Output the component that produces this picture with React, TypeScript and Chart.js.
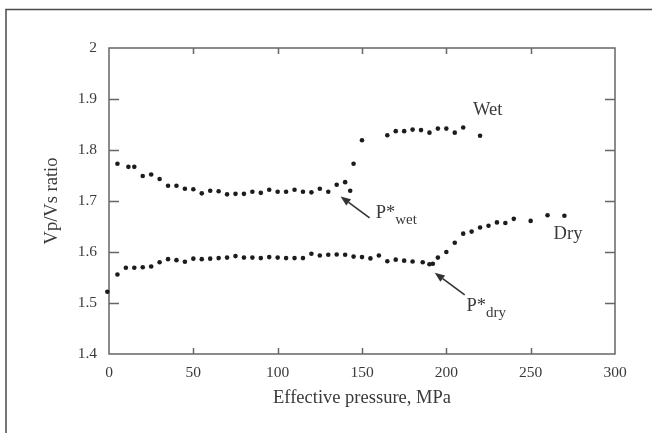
import React, { useEffect, useRef } from 'react';
import { Chart, registerables } from 'chart.js';

Chart.register(...registerables);

// Effective pressure (MPa) and Vp/Vs ratio
const wetPressure = [5, 11.5, 15, 20, 25, 30, 35, 40, 45, 50, 55, 60, 65, 70, 75, 80, 85, 90, 95, 100, 105, 110, 115, 120, 125, 130, 135, 140, 143, 145, 150, 165, 170, 175, 180, 185, 190, 195, 200, 205, 210, 220];
const wetRatio = [1.773, 1.767, 1.767, 1.749, 1.752, 1.743, 1.730, 1.730, 1.724, 1.723, 1.715, 1.720, 1.719, 1.713, 1.714, 1.714, 1.718, 1.716, 1.722, 1.718, 1.718, 1.722, 1.718, 1.717, 1.724, 1.718, 1.732, 1.737, 1.720, 1.773, 1.819, 1.829, 1.837, 1.837, 1.840, 1.839, 1.834, 1.842, 1.842, 1.834, 1.844, 1.828];

const dryPressure = [-1, 5, 10, 15, 20, 25, 30, 35, 40, 45, 50, 55, 60, 65, 70, 75, 80, 85, 90, 95, 100, 105, 110, 115, 120, 125, 130, 135, 140, 145, 150, 155, 160, 165, 170, 175, 180, 186, 190, 192, 195, 200, 205, 210, 215, 220, 225, 230, 235, 240, 250, 260, 270];
const dryRatio = [1.522, 1.556, 1.569, 1.569, 1.570, 1.5715, 1.580, 1.586, 1.584, 1.581, 1.587, 1.586, 1.587, 1.588, 1.589, 1.592, 1.589, 1.589, 1.588, 1.590, 1.589, 1.588, 1.588, 1.588, 1.5965, 1.593, 1.5945, 1.595, 1.5945, 1.591, 1.590, 1.5875, 1.593, 1.582, 1.585, 1.583, 1.5815, 1.580, 1.576, 1.577, 1.589, 1.600, 1.618, 1.636, 1.640, 1.648, 1.6515, 1.658, 1.657, 1.665, 1.661, 1.672, 1.671];

const xTitle = 'Effective pressure, MPa';
const yTitle = 'Vp/Vs ratio';

// annotation anchors in data units
const seriesLabels = [
  { text: 'Wet', x: 215.8, y: 1.8693 },
  { text: 'Dry', x: 263.6, y: 1.6251 },
];
const arrowNotes = [
  { main: 'P*', sub: 'wet', tip: [137.3, 1.709], tail: [154.5, 1.667], textAt: [158.1, 1.666] },
  { main: 'P*', sub: 'dry', tip: [193.1, 1.5595], tail: [210.9, 1.516], textAt: [211.9, 1.4843] },
];

const SERIF = '"Liberation Serif", "DejaVu Serif", serif';
const AXIS = '#666666';
const TEXT = '#3a3a3a';

const framePlugin = {
  id: 'frame',
  beforeDatasetsDraw(chart: any) {
    const { ctx, chartArea, scales } = chart;
    const { left, right, top, bottom } = chartArea;
    const x = scales.x;
    const y = scales.y;
    ctx.save();
    // outer picture frame
    ctx.strokeStyle = '#4a4a4a';
    ctx.lineWidth = 1.5;
    ctx.beginPath();
    ctx.moveTo(6, 433);
    ctx.lineTo(6, 9.5);
    ctx.lineTo(652, 9.5);
    ctx.stroke();
    // plot box
    ctx.strokeStyle = AXIS;
    ctx.lineWidth = 1.5;
    ctx.strokeRect(left, top, right - left, bottom - top);
    ctx.beginPath();
    x.ticks.forEach((t: any) => {
      if (t.value <= x.min || t.value >= x.max) return;
      const px = Math.round(x.getPixelForValue(t.value)) + 0.5;
      ctx.moveTo(px, bottom);
      ctx.lineTo(px, bottom - 6);
      ctx.moveTo(px, top);
      ctx.lineTo(px, top + 6);
    });
    y.ticks.forEach((t: any) => {
      if (t.value <= y.min + 1e-9 || t.value >= y.max - 1e-9) return;
      const py = Math.round(y.getPixelForValue(t.value)) + 0.5;
      ctx.moveTo(left, py);
      ctx.lineTo(left + 10, py);
      ctx.moveTo(right, py);
      ctx.lineTo(right - 10, py);
    });
    ctx.stroke();
    ctx.restore();
  },
  afterDraw(chart: any) {
    const { ctx, scales } = chart;
    const x = scales.x;
    const y = scales.y;
    ctx.save();
    ctx.fillStyle = TEXT;
    ctx.textBaseline = 'alphabetic';
    ctx.textAlign = 'left';
    ctx.font = `18.5px ${SERIF}`;
    seriesLabels.forEach((l) => {
      ctx.fillText(l.text, x.getPixelForValue(l.x), y.getPixelForValue(l.y));
    });
    arrowNotes.forEach((a) => {
      const tx = x.getPixelForValue(a.tip[0]);
      const ty = y.getPixelForValue(a.tip[1]);
      const sx = x.getPixelForValue(a.tail[0]);
      const sy = y.getPixelForValue(a.tail[1]);
      const ang = Math.atan2(ty - sy, tx - sx);
      const headLen = 10;
      const headW = 4;
      const bx = tx - headLen * Math.cos(ang);
      const by = ty - headLen * Math.sin(ang);
      ctx.strokeStyle = '#333';
      ctx.lineWidth = 1.6;
      ctx.beginPath();
      ctx.moveTo(sx, sy);
      ctx.lineTo(bx, by);
      ctx.stroke();
      ctx.fillStyle = '#333';
      ctx.beginPath();
      ctx.moveTo(tx, ty);
      ctx.lineTo(bx + headW * Math.sin(ang), by - headW * Math.cos(ang));
      ctx.lineTo(bx - headW * Math.sin(ang), by + headW * Math.cos(ang));
      ctx.closePath();
      ctx.fill();
      const px = x.getPixelForValue(a.textAt[0]);
      const py = y.getPixelForValue(a.textAt[1]);
      ctx.fillStyle = TEXT;
      ctx.font = `18.5px ${SERIF}`;
      ctx.fillText(a.main, px, py);
      const w = ctx.measureText(a.main).width;
      ctx.font = `15px ${SERIF}`;
      ctx.fillText(a.sub, px + w, py + 6);
    });
    ctx.restore();
  },
};

export default function App() {
  const canvasRef = useRef<HTMLCanvasElement | null>(null);

  useEffect(() => {
    if (!canvasRef.current) return;
    const toPts = (xs: number[], ys: number[]) => xs.map((v, i) => ({ x: v, y: ys[i] }));
    const chart = new Chart(canvasRef.current, {
      type: 'scatter',
      data: {
        datasets: [
          {
            label: 'Wet',
            data: toPts(wetPressure, wetRatio),
            backgroundColor: '#1c1c1c',
            borderWidth: 0,
            pointRadius: 2.3,
            clip: false as any,
          },
          {
            label: 'Dry',
            data: toPts(dryPressure, dryRatio),
            backgroundColor: '#1c1c1c',
            borderWidth: 0,
            pointRadius: 2.3,
            clip: false as any,
          },
        ],
      },
      options: {
        responsive: false,
        animation: false,
        layout: { padding: { left: 0, right: 43, top: 48, bottom: 0 } },
        plugins: {
          legend: { display: false },
          tooltip: { enabled: false },
        },
        scales: {
          x: {
            type: 'linear',
            min: 0,
            max: 300,
            afterFit: (s: any) => {
              s.height = 79;
            },
            grid: { display: false, drawTicks: false },
            border: { display: false },
            ticks: {
              stepSize: 50,
              padding: 10,
              color: TEXT,
              font: { family: SERIF, size: 15.5 },
              maxRotation: 0,
            },
            title: {
              display: true,
              text: xTitle,
              color: TEXT,
              font: { family: SERIF, size: 18.5 },
              padding: { top: 0, bottom: 24 },
            },
          },
          y: {
            type: 'linear',
            min: 1.4,
            max: 2,
            afterFit: (s: any) => {
              s.width = 109;
            },
            grid: { display: false, drawTicks: false },
            border: { display: false },
            ticks: {
              stepSize: 0.1,
              padding: 12,
              color: TEXT,
              font: { family: SERIF, size: 15.5 },
              callback: (v: any) => String(Math.round(Number(v) * 10) / 10),
            },
            title: {
              display: true,
              text: yTitle,
              color: TEXT,
              font: { family: SERIF, size: 18.5 },
              padding: { top: 41, bottom: 0 },
            },
          },
        },
      },
      plugins: [framePlugin],
    });
    return () => chart.destroy();
  }, []);

  return (
    <div style={{ position: 'fixed', left: 0, top: 0, width: 658, height: 433, background: '#ffffff' }}>
      <canvas ref={canvasRef} width={658} height={433} style={{ width: 658, height: 433, display: 'block' }} />
    </div>
  );
}
